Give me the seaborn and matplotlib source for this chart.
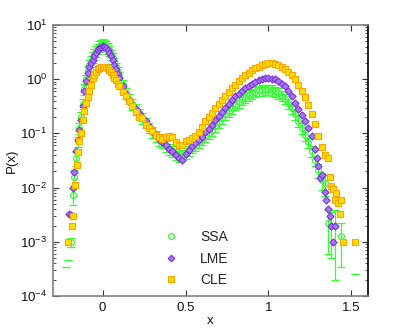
import numpy as np
import pandas as pd
import matplotlib
matplotlib.use("Agg")
import matplotlib.pyplot as plt
from matplotlib.ticker import LogLocator, NullFormatter, FixedLocator
from matplotlib.lines import Line2D
import seaborn as sns

# ---------------- data ----------------
x_grid = [-0.15, -0.14, -0.13, -0.12, -0.11, -0.10, -0.09, -0.08, -0.07, -0.06,
          -0.05, -0.04, -0.03, -0.02, -0.01, 0.00, 0.01, 0.02, 0.03, 0.04,
          0.05, 0.06, 0.07, 0.08, 0.09, 0.10,
          0.12, 0.14, 0.16, 0.18, 0.20, 0.22, 0.24, 0.26, 0.28, 0.30,
          0.32, 0.34, 0.36, 0.38, 0.40, 0.42, 0.44, 0.46, 0.48, 0.50,
          0.52, 0.54, 0.56, 0.58, 0.60, 0.62, 0.64, 0.66, 0.68, 0.70,
          0.72, 0.74, 0.76, 0.78, 0.80, 0.82, 0.84, 0.86, 0.88, 0.90,
          0.92, 0.94, 0.96, 0.98, 1.00, 1.02, 1.04, 1.06, 1.08, 1.10,
          1.12, 1.14, 1.16, 1.18, 1.20, 1.22, 1.24, 1.26, 1.28]

ssa_grid = [0.071, 0.126, 0.20, 0.355, 0.66, 1.0, 1.41, 1.82, 2.19, 2.57,
            2.95, 3.31, 3.72, 4.07, 4.37, 4.47, 4.37, 4.17, 3.80, 3.39,
            2.88, 2.45, 2.04, 1.66, 1.35, 1.12,
            0.78, 0.56, 0.44, 0.35, 0.28, 0.234, 0.195, 0.158, 0.129, 0.107,
            0.089, 0.076, 0.068, 0.059, 0.052, 0.047, 0.042, 0.038, 0.040, 0.044,
            0.049, 0.055, 0.062, 0.069, 0.078, 0.089, 0.102, 0.117, 0.138, 0.162,
            0.19, 0.224, 0.257, 0.295, 0.34, 0.38, 0.43, 0.47, 0.51, 0.55,
            0.59, 0.62, 0.63, 0.65, 0.65, 0.63, 0.60, 0.56, 0.50, 0.44,
            0.36, 0.29, 0.224, 0.17, 0.126, 0.093, 0.068, 0.048, 0.032]
ssa_tail_x = [-0.19, -0.18, -0.17, -0.16, 1.30, 1.32, 1.34, 1.36, 1.38, 1.40, 1.44]
ssa_tail_p = [0.0010, 0.0072, 0.016, 0.035, 0.021, 0.014, 0.012, 0.0022, 0.0020, 0.0020, 0.0013]
ssa_tail_err = [0.00019, 0.0025, 0.005, 0.01, 0.006, 0.005, 0.005, 0.0016, 0.0015, 0.0018, 0.00095]
ssa_rel_err = 0.22
ssa_cap_x = [-0.21, -0.22, 1.52]
ssa_cap_p = [0.00046, 0.00034, 0.00025]

lme_grid = [0.076, 0.117, 0.178, 0.316, 0.60, 0.93, 1.32, 1.66, 1.95, 2.29,
            2.69, 3.02, 3.39, 3.72, 3.98, 4.07, 3.98, 3.80, 3.47, 3.09,
            2.63, 2.24, 1.86, 1.55, 1.26, 1.05,
            0.74, 0.54, 0.42, 0.34, 0.28, 0.24, 0.204, 0.166, 0.135, 0.112,
            0.093, 0.079, 0.069, 0.060, 0.052, 0.047, 0.040, 0.035, 0.033, 0.042,
            0.049, 0.058, 0.066, 0.076, 0.087, 0.105, 0.123, 0.145, 0.174, 0.209,
            0.25, 0.30, 0.355, 0.42, 0.48, 0.54, 0.60, 0.68, 0.76, 0.83,
            0.89, 0.95, 1.0, 1.05, 1.05, 1.02, 1.0, 0.93, 0.83, 0.74,
            0.60, 0.48, 0.37, 0.28, 0.219, 0.166, 0.126, 0.089, 0.052]
lme_tail_x = [-0.20, -0.19, -0.18, -0.17, -0.16,
              1.29, 1.30, 1.31, 1.32, 1.34, 1.35, 1.36, 1.37, 1.38, 1.39, 1.40]
lme_tail_p = [0.0032, 0.0031, 0.010, 0.0195, 0.047,
              0.035, 0.025, 0.015, 0.017, 0.0083, 0.0060, 0.0040, 0.0030, 0.0020, 0.0010, 0.0020]

cle_grid = [0.045, 0.071, 0.10, 0.178, 0.26, 0.36, 0.47, 0.60, 0.79, 1.05,
            1.20, 1.35, 1.51, 1.62, 1.66, 1.70, 1.70, 1.66, 1.58, 1.48,
            1.35, 1.20, 1.07, 0.95, 0.83, 0.74,
            0.59, 0.49, 0.39, 0.316, 0.25, 0.20, 0.19, 0.145, 0.126, 0.11,
            0.095, 0.087, 0.078, 0.085, 0.091, 0.087, 0.069, 0.062, 0.060, 0.071,
            0.076, 0.081, 0.091, 0.107, 0.129, 0.166, 0.20, 0.24, 0.295, 0.347,
            0.42, 0.49, 0.575, 0.68, 0.79, 0.91, 1.05, 1.17, 1.32, 1.45,
            1.58, 1.70, 1.82, 1.91, 1.95, 1.95, 1.91, 1.82, 1.70, 1.55,
            1.38, 1.20, 1.0, 0.79, 0.60, 0.46, 0.33, 0.224, 0.15]
cle_tail_x = [-0.21, -0.185, -0.18, -0.165, -0.155,
              1.30, 1.32, 1.34, 1.36, 1.37, 1.38, 1.39, 1.40, 1.41, 1.42, 1.43, 1.44, 1.45, 1.52]
cle_tail_p = [0.0010, 0.0020, 0.0030, 0.011, 0.026,
              0.089, 0.056, 0.040, 0.035, 0.016, 0.0105, 0.0093, 0.0060, 0.0081, 0.0051,
              0.0032, 0.0060, 0.0010, 0.0010]

labels = ["SSA", "LME", "CLE"]

# ---------------- build tables ----------------
ssa = pd.DataFrame({"x": x_grid + ssa_tail_x, "P": ssa_grid + ssa_tail_p})
ssa_err = [p * ssa_rel_err for p in ssa_grid] + ssa_tail_err
lme = pd.DataFrame({"x": x_grid + lme_tail_x, "P": lme_grid + lme_tail_p})
cle = pd.DataFrame({"x": x_grid + cle_tail_x, "P": cle_grid + cle_tail_p})

# ---------------- style ----------------
sns.set_theme(style="white")
plt.rcParams["font.family"] = ["Liberation Sans", "DejaVu Sans"]
plt.rcParams["mathtext.fontset"] = "custom"
plt.rcParams["mathtext.rm"] = "Liberation Sans"
plt.rcParams["mathtext.it"] = "Liberation Sans:italic"

green = "#33ff33"
purple_face = "#a57af2"
purple_edge = "#8030e0"
gold_face = "#ffdd00"
gold_edge = "#ffa500"

fig = plt.figure(figsize=(4.07, 3.33), dpi=100)
ax = fig.add_axes([0.130, 0.111, 0.774, 0.814])

# SSA with error bars
ax.errorbar(ssa["x"], ssa["P"], yerr=ssa_err, fmt="o", ms=4.2, mfc="none",
            mec=green, mew=0.9, ecolor=green, elinewidth=0.9, capsize=3.0,
            capthick=0.9, zorder=2)
ax.errorbar(ssa_cap_x, ssa_cap_p, yerr=[[0.0] * len(ssa_cap_x), [0.0] * len(ssa_cap_x)],
            fmt="none", ecolor=green, elinewidth=0.9, capsize=3.0, capthick=0.9, zorder=2)

sns.scatterplot(data=lme, x="x", y="P", marker="D", s=13, color=purple_face,
                edgecolor=purple_edge, linewidth=0.8, ax=ax, zorder=3)
sns.scatterplot(data=cle, x="x", y="P", marker="s", s=18, color=gold_face,
                edgecolor=gold_edge, linewidth=0.8, ax=ax, zorder=4)

ax.set_yscale("log")
ax.set_xlim(-0.3, 1.6)
ax.set_ylim(1e-4, 1e1)
ax.xaxis.set_major_locator(FixedLocator([0, 0.5, 1, 1.5]))
ax.set_xticklabels(["0", "0.5", "1", "1.5"])
ax.yaxis.set_major_locator(LogLocator(base=10, numticks=10))
ax.yaxis.set_minor_locator(LogLocator(base=10, subs=np.arange(2, 10), numticks=20))
ax.yaxis.set_minor_formatter(NullFormatter())

ax.tick_params(axis="both", which="major", direction="in", length=4, width=0.8,
               bottom=True, left=True, top=True, right=True, labelsize=9.5,
               colors="#333333", labelcolor="#111111", pad=4)
ax.tick_params(axis="y", which="minor", direction="in", length=2, width=0.6,
               left=True, right=True, colors="#333333")
for side in ["left", "bottom", "top"]:
    ax.spines[side].set_color("#808080")
    ax.spines[side].set_linewidth(1.2)
ax.spines["right"].set_color("#000000")
ax.spines["right"].set_linewidth(1.2)

ax.set_xlabel("x", fontsize=9.5, labelpad=1, color="#111111")
ax.set_ylabel("P(x)", fontsize=9.5, labelpad=2, color="#111111")

# legend
handles = [
    Line2D([], [], ls="none", marker="o", ms=4.2, mfc="none", mec=green, mew=0.9),
    Line2D([], [], ls="none", marker="D", ms=3.3, mfc=purple_face, mec=purple_edge, mew=0.8),
    Line2D([], [], ls="none", marker="s", ms=4.2, mfc=gold_face, mec=gold_edge, mew=0.8),
]
ax.legend(handles, labels, loc="lower left", bbox_to_anchor=(0.335, 0.012),
          frameon=False, fontsize=10, handlelength=1.0, handletextpad=1.6,
          labelspacing=0.55, borderaxespad=0)

fig.savefig("out.png", dpi=100)
